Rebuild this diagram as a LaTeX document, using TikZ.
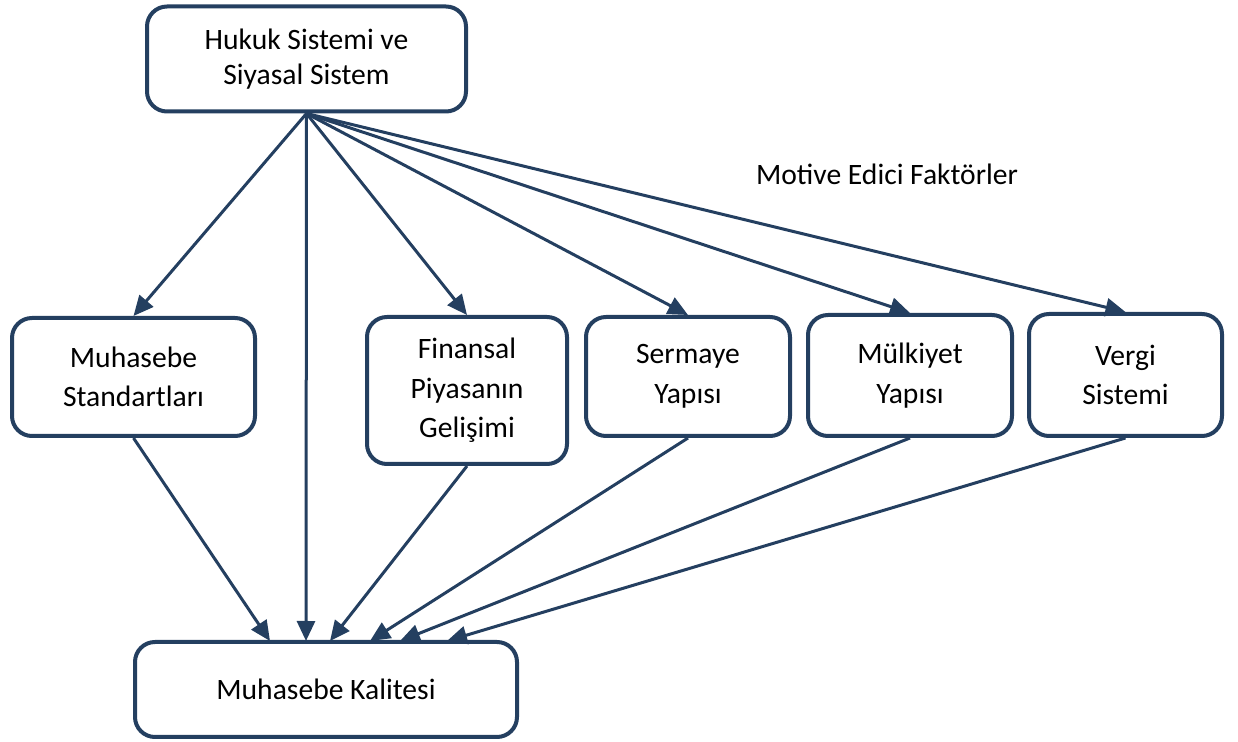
\documentclass[tikz,border=0pt]{standalone}
\usepackage{fontspec}
\setmainfont{Carlito}
\usetikzlibrary{arrows.meta}
\definecolor{boxblue}{RGB}{36,63,96}
\begin{document}
\begin{tikzpicture}[x=0.5pt,y=-0.5pt,
    box/.style={draw=boxblue, line width=2pt, rounded corners=10pt, fill=white,
      align=center, inner sep=0pt, font=\fontsize{14.8}{19.8}\selectfont},
    link/.style={draw=boxblue, line width=1.5pt, -{Triangle[length=10pt,width=9pt]}}]
    \useasboundingbox (0,0) rectangle (1238,742);

    % Top node
    \node[box, minimum width=159.5pt, minimum height=52.5pt, font=\fontsize{14.8}{17.5}\selectfont] (hukuk) at (306.5,59) {Hukuk Sistemi ve\\Siyasal Sistem};

    % Middle row
    \node[box, minimum width=121.5pt, minimum height=59pt] (standart) at (133.5,377) {Muhasebe\\Standartları};
    \node[box, minimum width=100pt, minimum height=73.5pt] (finans) at (467,390.5) {Finansal\\Piyasanın\\Gelişimi};
    \node[box, minimum width=102pt, minimum height=59.5pt] (sermaye) at (688,376.5) {Sermaye\\Yapısı};
    \node[box, minimum width=102pt, minimum height=60.5pt] (mulkiyet) at (910,375.5) {Mülkiyet\\Yapısı};
    \node[box, minimum width=96.5pt, minimum height=61pt] (vergi) at (1125.5,375) {Vergi\\Sistemi};

    % Bottom node
    \node[box, minimum width=191pt, minimum height=47.5pt] (kalite) at (326,689.5) {Muhasebe Kalitesi};

    % Side label
    \node[font=\fontsize{14.8}{17.5}\selectfont] (motive) at (887,174) {Motive Edici Faktörler};

    % Arrow ends on the bottom node
    \coordinate (k1) at (270,641);
    \coordinate (k2) at (306,641);
    \coordinate (k3) at (330,641);
    \coordinate (k4) at (370,641);
    \coordinate (k5) at (400,641);
    \coordinate (k6) at (447,641);

    % Draw arrows
    \draw[link] (hukuk.south) -- (standart.north);
    \draw[link] (hukuk.south) -- (k2);
    \draw[link] (hukuk.south) -- (finans.north);
    \draw[link] (hukuk.south) -- (sermaye.north);
    \draw[link] (hukuk.south) -- (mulkiyet.north);
    \draw[link] (hukuk.south) -- (vergi.north);

    \draw[link] (standart.south) -- (k1);
    \draw[link] (finans.south) -- (k3);
    \draw[link] (sermaye.south) -- (k4);
    \draw[link] (mulkiyet.south) -- (k5);
    \draw[link] (vergi.south) -- (k6);
\end{tikzpicture}
\end{document}
